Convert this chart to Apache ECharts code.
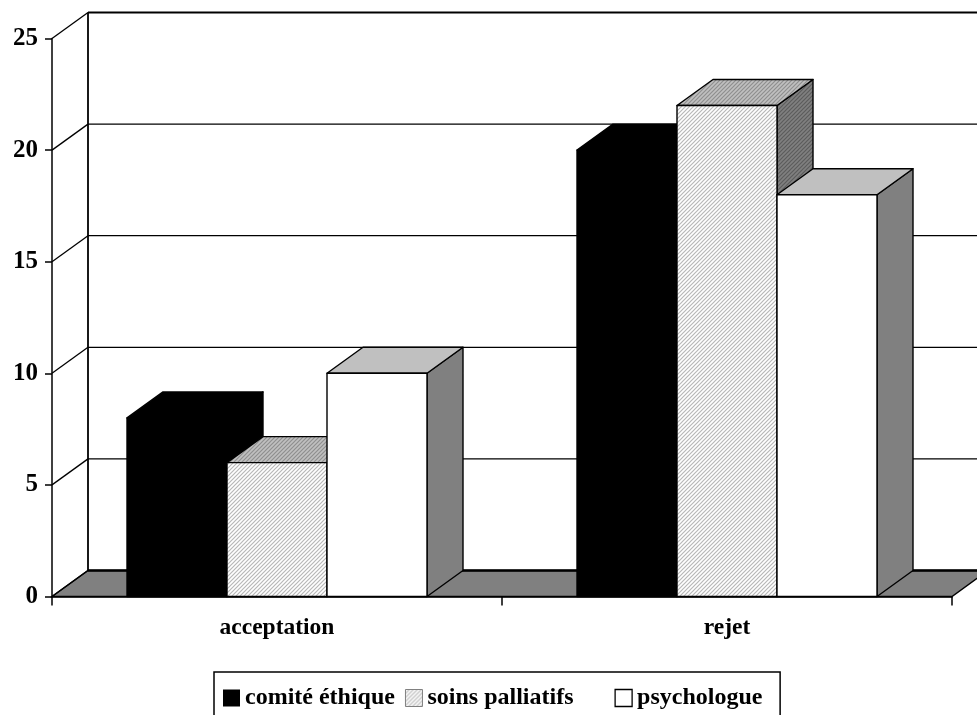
<!DOCTYPE html>
<html>
<head>
<meta charset="utf-8">
<script src="https://cdn.jsdelivr.net/npm/echarts@6/dist/echarts.min.js"></script>
<style>
  html, body { margin: 0; padding: 0; background: #fff; }
  #chart { width: 977px; height: 715px; }
</style>
</head>
<body>
<div id="chart"></div>
<script>
// Data
const categories = ['acceptation', 'rejet'];
const seriesNames = ['comité éthique', 'soins palliatifs', 'psychologue'];
const comiteEthique = [8, 20];
const soinsPalliatifs = [6, 22];
const psychologue = [10, 18];
const yTicks = [0, 5, 10, 15, 20, 25];

const FONT = '"Liberation Serif", "Times New Roman", serif';
const DX = 36, DY = -26;          // depth offset of the 3D box (px)
const BAR_SHARE = 2 / 9;          // bar width as a share of the category band

// Diagonal hatch fill
function hatch(bg, line) {
  const c = document.createElement('canvas');
  c.width = 4; c.height = 4;
  const g = c.getContext('2d');
  g.fillStyle = bg; g.fillRect(0, 0, 4, 4);
  g.strokeStyle = line; g.lineWidth = 1.2;
  g.beginPath();
  g.moveTo(-1, 5); g.lineTo(5, -1);
  g.moveTo(-3, 3); g.lineTo(3, -3);
  g.moveTo(1, 7); g.lineTo(7, 1);
  g.stroke();
  return { image: c, repeat: 'repeat' };
}

const faces = [
  { front: '#000', top: '#000', side: '#000' },
  { front: hatch('#ffffff', '#b8b8b8'), top: hatch('#c0c0c0', '#8e8e8e'), side: hatch('#808080', '#5c5c5c') },
  { front: '#fff', top: '#c0c0c0', side: '#808080' }
];

function barRenderer(si) {
  return function (params, api) {
    const cat = api.value(0), val = api.value(1);
    const top = api.coord([cat, val]);
    const base = api.coord([cat, 0]);
    const band = api.size([1, 0])[0];
    const bw = band * BAR_SHARE;
    const x0 = top[0] - 1.5 * bw + si * bw, x1 = x0 + bw;
    const yT = top[1], yB = base[1];
    const f = faces[si];
    const edge = { stroke: '#000', lineWidth: 1.4, lineJoin: 'round' };
    return {
      type: 'group',
      children: [
        { type: 'polygon', shape: { points: [[x1, yB], [x1, yT], [x1 + DX, yT + DY], [x1 + DX, yB + DY]] },
          style: Object.assign({ fill: f.side }, edge) },
        { type: 'polygon', shape: { points: [[x0, yT], [x0 + DX, yT + DY], [x1 + DX, yT + DY], [x1, yT]] },
          style: Object.assign({ fill: f.top }, edge) },
        { type: 'rect', shape: { x: x0, y: yT, width: bw, height: yB - yT },
          style: Object.assign({ fill: f.front }, edge) }
      ]
    };
  };
}

// Floor, left wall and back wall of the box
function frameRenderer(params, api) {
  const cs = params.coordSys;
  const xL = cs.x, xR = cs.x + cs.width;
  const y0 = api.coord([0, 0])[1];
  const yTop = api.coord([0, yTicks[yTicks.length - 1]])[1];
  const ln = (x1, y1, x2, y2, w) => ({ type: 'line', shape: { x1, y1, x2, y2 }, style: { stroke: '#000', lineWidth: w } });
  const children = [];
  // back wall grid lines
  yTicks.forEach(t => {
    const y = api.coord([0, t])[1] + DY;
    children.push(ln(xL + DX, y, xR + DX, y, 1.2));
  });
  // floor
  children.push({ type: 'polygon',
    shape: { points: [[xL, y0], [xR, y0], [xR + DX, y0 + DY], [xL + DX, y0 + DY]] },
    style: { fill: '#808080', stroke: '#000', lineWidth: 1.4 } });
  // left wall diagonals
  yTicks.forEach(t => {
    const y = api.coord([0, t])[1];
    children.push(ln(xL, y, xL + DX, y + DY, 1.3));
  });
  // back wall edges
  children.push(ln(xL + DX, y0 + DY, xL + DX, yTop + DY, 1.8));
  children.push(ln(xL + DX, yTop + DY, xR + DX, yTop + DY, 2));
  children.push(ln(xL + DX, y0 + DY, xR + DX, y0 + DY, 2.6));
  return { type: 'group', children };
}

const seriesValues = [comiteEthique, soinsPalliatifs, psychologue];
const legendFills = [
  { color: '#000', borderWidth: 0 },
  { color: hatch('#ffffff', '#b8b8b8'), borderColor: '#808080', borderWidth: 1 },
  { color: '#fff', borderColor: '#000', borderWidth: 1.3 }
];
const legendTextWidths = [148, 177, 133];

const chart = echarts.init(document.getElementById('chart'), null, { renderer: 'canvas' });
chart.setOption({
  animation: false,
  backgroundColor: '#fff',
  grid: { left: 52, right: 25, top: 38.5, bottom: 118.5, containLabel: false },
  xAxis: {
    type: 'category',
    data: categories,
    axisLine: { show: true, lineStyle: { color: '#000', width: 1.5 } },
    axisTick: { show: true, length: 9, lineStyle: { color: '#000', width: 1.5 } },
    axisLabel: { color: '#000', fontFamily: FONT, fontWeight: 'bold', fontSize: 23.5, margin: 19 },
    splitLine: { show: false }
  },
  yAxis: {
    type: 'value',
    min: 0, max: 25, interval: 5,
    axisLine: { show: true, lineStyle: { color: '#000', width: 1.5 } },
    axisTick: { show: true, length: 7, lineStyle: { color: '#000', width: 1.5 } },
    axisLabel: { color: '#000', fontFamily: FONT, fontWeight: 'bold', fontSize: 25, margin: 14 },
    splitLine: { show: false }
  },
  legend: {
    left: 214, top: 672,
    orient: 'horizontal',
    selectedMode: false,
    itemWidth: 17, itemHeight: 17, itemGap: 10,
    padding: [14, 10, 30, 9],
    borderColor: '#000', borderWidth: 1.5, borderRadius: 0,
    backgroundColor: '#fff',
    formatter: name => '{t' + seriesNames.indexOf(name) + '|' + name + '}',
    textStyle: {
      fontFamily: FONT, fontWeight: 'bold', fontSize: 24, color: '#000', lineHeight: 24,
      rich: {
        t0: { width: legendTextWidths[0], fontFamily: FONT, fontWeight: 'bold', fontSize: 24, color: '#000' },
        t1: { width: legendTextWidths[1], fontFamily: FONT, fontWeight: 'bold', fontSize: 24, color: '#000' },
        t2: { width: legendTextWidths[2], fontFamily: FONT, fontWeight: 'bold', fontSize: 24, color: '#000' }
      }
    },
    data: seriesNames.map((n, i) => ({ name: n, icon: 'rect', itemStyle: legendFills[i] }))
  },
  series: [
    {
      type: 'custom', name: 'cadre', z: 1, silent: true,
      renderItem: frameRenderer,
      data: [[0, 0]]
    }
  ].concat(seriesNames.map((n, si) => ({
    type: 'custom', name: n, z: 3, silent: true,
    itemStyle: { color: legendFills[si].color },
    renderItem: barRenderer(si),
    data: seriesValues[si].map((v, i) => [i, v])
  })))
});
</script>
</body>
</html>
